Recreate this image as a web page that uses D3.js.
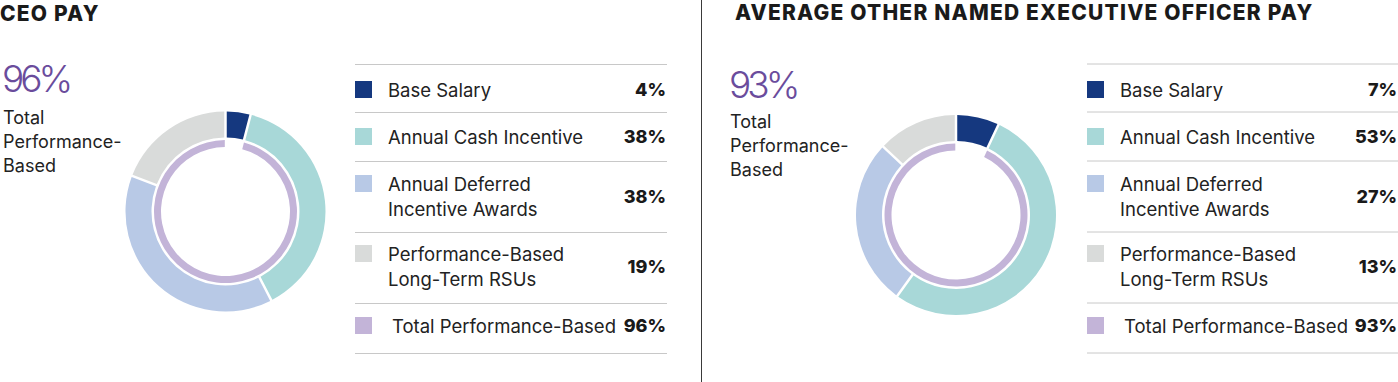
<!DOCTYPE html>
<html><head><meta charset="utf-8">
<script src="https://cdn.jsdelivr.net/npm/d3@7"></script>
<style>
html,body{margin:0;padding:0;background:#fff;}
svg{display:block;}
text{font-family:Inter,"Noto Sans",sans-serif;fill:#222;}
</style></head>
<body><svg id="chart" width="1398" height="382"></svg>
<script>
// ---- data ----
const titles = ["CEO PAY", "AVERAGE OTHER NAMED EXECUTIVE OFFICER PAY"];
const categories = ["Base Salary", "Annual Cash Incentive", "Annual Deferred Incentive Awards", "Performance-Based Long-Term RSUs"];
const legendLabels = [["Base Salary"], ["Annual Cash Incentive"], ["Annual Deferred", "Incentive Awards"], ["Performance-Based", "Long-Term RSUs"], ["Total Performance-Based"]];
const ceoValues = [4, 38, 38, 19];
const neoValues = [7, 53, 27, 13];
const totalLabel = "Total Performance-Based";
const sideLabel = ["Total", "Performance-", "Based"];
const ceoTotal = 96;
const neoTotal = 93;
const colors = ["#15387f", "#a8d8d8", "#b8c9e6", "#d9dbda", "#c3b4d8"];

// ---- layout ----
const svg = d3.select("#chart");
const panels = [
  {title: titles[0], values: ceoValues, total: ceoTotal, tx: 0, ty: 20.5, bigX: 2, bigY: 92, sideY: 124,
   cx: 225.5, cy: 211.5, lx0: 355, lx1: 667, textX: 388, pctX: 666, dy: 0},
  {title: titles[1], values: neoValues, total: neoTotal, tx: 735, ty: 20, bigX: 729, bigY: 98, sideY: 128,
   cx: 956, cy: 215, lx0: 1087, lx1: 1398, textX: 1120, pctX: 1397, dy: -0.5}
];
const lineYs = [64, 112, 161, 232, 303, 353];
const rowBase = [97, 144, 191, 261, 333];
const lineH = 25;

const fmt = d => d + "%";

// divider
svg.append("line").attr("x1", 701.5).attr("x2", 701.5).attr("y1", 0).attr("y2", 382)
  .attr("stroke", "#3a3a3a").attr("stroke-width", 1);

panels.forEach(p => {
  const g = svg.append("g");
  g.append("text").attr("x", p.tx).attr("y", p.ty).text(p.title)
    .style("font-size", "21px").style("font-weight", 800).style("fill", "#1a1a1a").style("letter-spacing", "1.2px");

  g.append("text").attr("x", p.bigX).attr("y", p.bigY).text(fmt(p.total))
    .style("font-size", "37px").style("font-weight", 300).style("fill", "#6a4c9c").style("letter-spacing", "-4px");
  sideLabel.forEach((s, i) => {
    g.append("text").attr("x", p.bigX + 1).attr("y", p.sideY + i * 24).text(s)
      .style("font-size", "18px").style("font-weight", 400);
  });

  // donut
  const pie = d3.pie().sort(null).value(d => d);
  const arcs = pie(p.values);
  const arc = d3.arc().innerRadius(74).outerRadius(100).padAngle(0.025).padRadius(100);
  const dg = g.append("g").attr("transform", `translate(${p.cx},${p.cy})`);
  dg.selectAll("path.seg").data(arcs).join("path").attr("class", "seg")
    .attr("d", arc).attr("fill", (d, i) => colors[i]);
  const angle = d3.scaleLinear().domain([0, 100]).range([0, 2 * Math.PI]);
  const inner = d3.arc().innerRadius(64.5).outerRadius(71.5).padAngle(0.02).padRadius(70);
  dg.append("path").attr("d", inner({startAngle: angle(100 - p.total), endAngle: angle(100)}))
    .attr("fill", colors[4]);

  // legend table
  const legendVals = p.values.concat([p.total]);
  g.selectAll("line.rule").data(lineYs).join("line").attr("class", "rule")
    .attr("x1", p.lx0).attr("x2", p.lx1).attr("y1", d => d + 0.5 + p.dy).attr("y2", d => d + 0.5 + p.dy)
    .attr("stroke", "#c8c8c8").attr("stroke-width", 1);
  legendLabels.forEach((lines, i) => {
    const b = rowBase[i];
    g.append("rect").attr("x", p.lx0).attr("y", b - 16).attr("width", 17).attr("height", 17)
      .attr("fill", colors[i]);
    lines.forEach((t, j) => {
      g.append("text").attr("x", p.textX + (i === 4 ? 4 : 0)).attr("y", b + j * lineH).text(t)
        .style("font-size", "18.5px").style("font-weight", 400);
    });
    const pb = lines.length > 1 ? b + lineH / 2 - 1 : b - 1;
    g.append("text").attr("x", p.pctX).attr("y", pb).attr("text-anchor", "end").text(fmt(legendVals[i]))
      .style("font-size", "18px").style("font-weight", 800).style("fill", "#1a1a1a");
  });
});
</script></body></html>
